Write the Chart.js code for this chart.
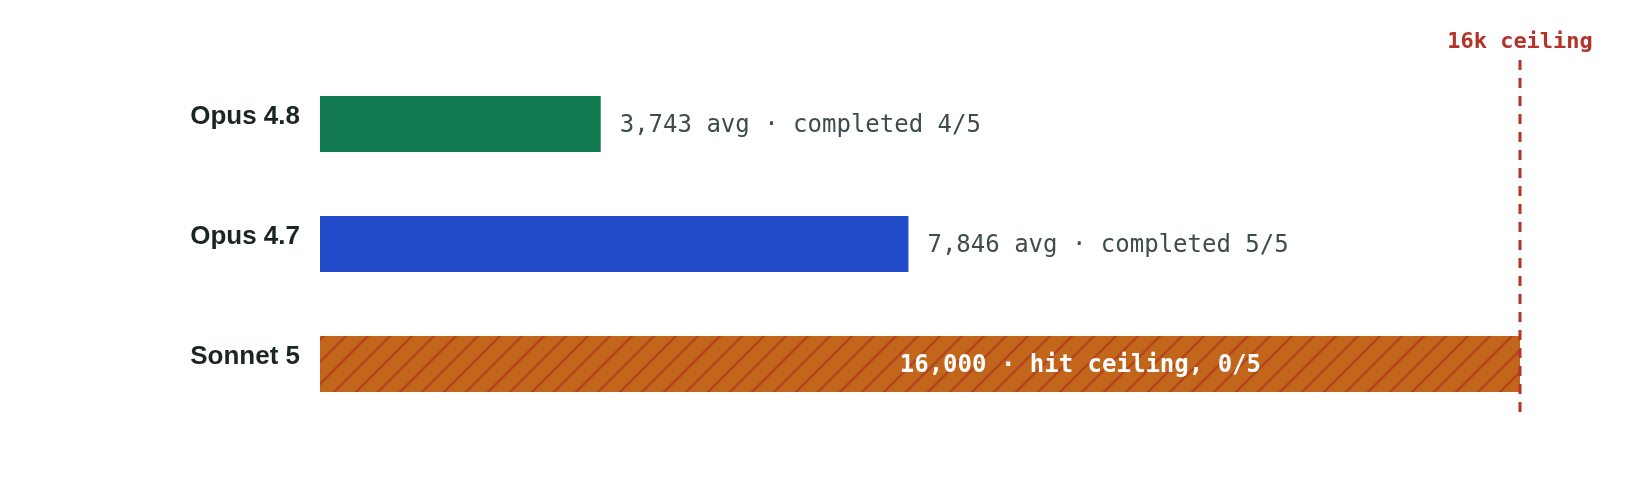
<!DOCTYPE html>
<html>
<head>
<meta charset="utf-8">
<script src="https://cdn.jsdelivr.net/npm/chart.js@4/dist/chart.umd.min.js"></script>
<style>
  html, body { margin: 0; padding: 0; background: #ffffff; }
  #wrap { width: 1640px; height: 500px; }
</style>
</head>
<body>
<div id="wrap"><canvas id="c" width="1640" height="500"></canvas></div>
<script>
// ---- data ----
const categories = ["Opus 4.8", "Opus 4.7", "Sonnet 5"];
const avgTokens = [3743, 7846, 16000];
const completed = [4, 5, 0];
const runs = [5, 5, 5];
const hitCeiling = [false, false, true];
const ceiling = 16000;
const ceilingLabel = "16k ceiling";
const xMin = 0;
const xMax = 16000;

// ---- styles ----
const barColors = ["#127a50", "#214bc8", null];
const hatchBase = "#c2661b";
const hatchStripe = "#b4451f";
const ceilingColor = "#b3322a";
const monoFont = "'DejaVu Sans Mono', 'Liberation Mono', monospace";

function makeHatch() {
  const s = 22;
  const p = document.createElement("canvas");
  p.width = s; p.height = s;
  const g = p.getContext("2d");
  g.fillStyle = hatchBase;
  g.fillRect(0, 0, s, s);
  g.strokeStyle = hatchStripe;
  g.lineWidth = 2.4;
  g.beginPath();
  g.moveTo(-s, s); g.lineTo(s, -s);
  g.moveTo(0, s * 2); g.lineTo(s * 2, 0);
  g.moveTo(0, s); g.lineTo(s, 0);
  g.stroke();
  return g.createPattern(p, "repeat");
}

const ctx0 = document.getElementById("c").getContext("2d");
const hatch = makeHatch();
const fills = barColors.map((c, i) => hitCeiling[i] ? hatch : c);

const overlay = {
  id: "overlay",
  afterDatasetsDraw(chart) {
    const ctx = chart.ctx;
    const xs = chart.scales.x;
    const meta = chart.getDatasetMeta(0);
    ctx.save();
    // value labels
    meta.data.forEach((bar, i) => {
      ctx.textBaseline = "middle";
      if (hitCeiling[i]) {
        ctx.font = "bold 24px " + monoFont;
        ctx.fillStyle = "#ffffff";
        ctx.textAlign = "right";
        const txt = avgTokens[i].toLocaleString("en-US") + " · hit ceiling, " + completed[i] + "/" + runs[i];
        ctx.fillText(txt, bar.x - 259, bar.y + 2);
      } else {
        ctx.font = "24px " + monoFont;
        ctx.fillStyle = "#3e4c4c";
        ctx.textAlign = "left";
        const txt = avgTokens[i].toLocaleString("en-US") + " avg · completed " + completed[i] + "/" + runs[i];
        ctx.fillText(txt, bar.x + 19, bar.y + 2);
      }
    });
    // ceiling line
    const cx = Math.round(xs.getPixelForValue(ceiling));
    ctx.strokeStyle = ceilingColor;
    ctx.lineWidth = 3;
    ctx.setLineDash([10, 8]);
    ctx.beginPath();
    ctx.moveTo(cx, 60);
    ctx.lineTo(cx, 412);
    ctx.stroke();
    ctx.setLineDash([]);
    // ceiling label
    ctx.font = "bold 22px " + monoFont;
    ctx.fillStyle = ceilingColor;
    ctx.textAlign = "center";
    ctx.textBaseline = "alphabetic";
    ctx.fillText(ceilingLabel, cx, 48);
    ctx.restore();
  }
};

new Chart(ctx0, {
  type: "bar",
  data: {
    labels: categories,
    datasets: [{
      data: avgTokens,
      backgroundColor: fills,
      borderWidth: 0,
      barPercentage: 0.4667,
      categoryPercentage: 1.0
    }]
  },
  options: {
    indexAxis: "y",
    responsive: false,
    animation: false,
    layout: { padding: { top: 64, bottom: 76, right: 120, left: 0 } },
    plugins: { legend: { display: false }, tooltip: { enabled: false } },
    scales: {
      x: { display: false, min: xMin, max: xMax },
      y: {
        grid: { display: false, drawTicks: false },
        border: { display: false },
        ticks: {
          padding: 20,
          labelOffset: -7,
          color: "#1b2523",
          font: { family: "'Liberation Sans', Arial, Helvetica, sans-serif", size: 26, weight: "bold" }
        },
        afterFit(scale) { scale.width = 320; }
      }
    }
  },
  plugins: [overlay]
});
</script>
</body>
</html>
